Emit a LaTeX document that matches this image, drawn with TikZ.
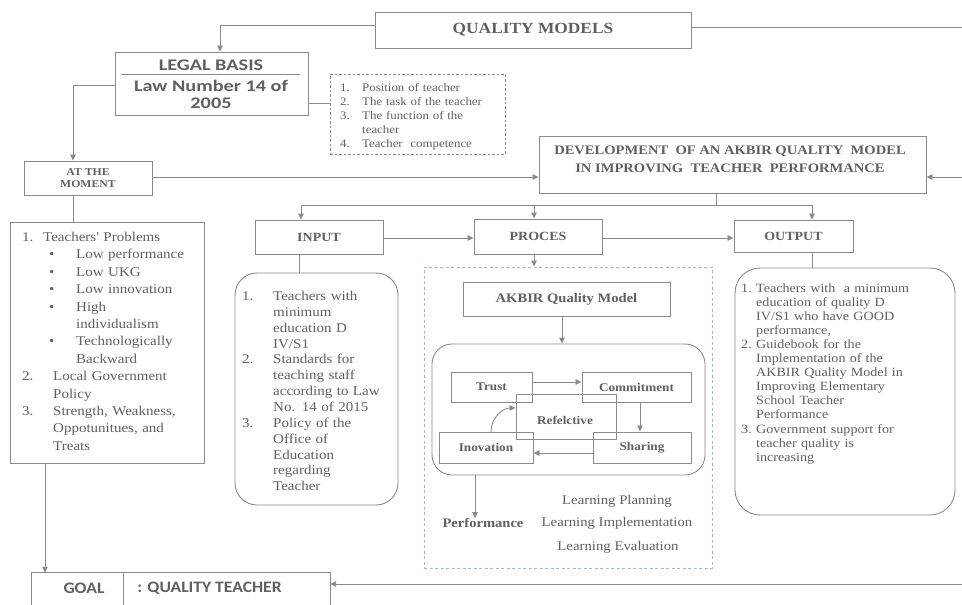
\documentclass[tikz,border=0pt]{standalone}
\usepackage{fontspec}
\usetikzlibrary{arrows.meta}
\newfontfamily\sr{Liberation Serif}[FakeStretch=1.12]
\newfontfamily\sn{Carlito}[FakeStretch=1.1]
\newfontfamily\snw{Carlito}[FakeStretch=1.25]
\definecolor{lc}{HTML}{8A8A8A}
\definecolor{tc}{HTML}{606060}
\definecolor{bc}{HTML}{9DB8DA}
\newcommand\mybox[6]{\node[#1,minimum width={(#4)-(#2)},minimum height={(#5)-(#3)}] (#6) at ({((#2)+(#4))/2},{((#3)+(#5))/2})}
\begin{document}
\begin{tikzpicture}[x=1pt,y=-1pt,
  box/.style={draw=lc, line width=0.9pt, inner sep=0pt, text=tc},
  rbox/.style={box, rounded corners=#1},
  dbox/.style={box, dash pattern=on 2.5pt off 2pt},
  bluebox/.style={draw=bc, line width=0.9pt, inner sep=0pt, dash pattern=on 3pt off 2.5pt},
  conn/.style={draw=lc, line width=0.9pt},
  arr/.style={conn, -{Triangle[length=6pt,width=5.5pt]}},
  txt/.style={text=tc, inner sep=0pt},
  lst/.style={txt, anchor=base west, align=left, text width=#1},
  bs/.style={font=\sr\bfseries\fontsize{#1}{#1}\selectfont},
  rs/.style={font=\sr\fontsize{#1}{#1}\selectfont},
  cb/.style={font=\sn\bfseries\fontsize{#1}{#1}\selectfont},
  cw/.style={font=\snw\bfseries\fontsize{#1}{#1}\selectfont},
]
\useasboundingbox (0,0) rectangle (962,605);
\fill[white] (0,0) rectangle (962,605);

% ---- top
\mybox{box,bs=15.5}{375}{12}{691}{48}{qm} {QUALITY MODELS};
\mybox{box}{115}{52}{308}{115}{legal} {};
\node[txt,cw=16.2] (lg1) at (211,65) {LEGAL BASIS};
\node[txt,cw=16.2] (lg2) at (211,86) {Law Number 14 of};
\node[txt,cw=16.2] (lg3) at (211,103) {2005};
\draw[conn] (121,74) -- (300,74);
\mybox{dbox}{330}{74}{505}{154}{duties} {};
\node[lst=170pt, font=\sr\fontsize{11.5}{14.2}\selectfont] (dlist) at (340,91)
 {\makebox[22pt][l]{1.}Position of teacher\\
  \makebox[22pt][l]{2.}The task of the teacher\\
  \makebox[22pt][l]{3.}The function of the\\
  \hspace*{22pt}teacher\\
  \makebox[22pt][l]{4.}Teacher\ \ competence};

\mybox{box,align=center,font=\sr\bfseries\fontsize{10.5}{12}\selectfont}{24}{161}{152}{195}{now} {AT THE\\MOMENT};
\mybox{box}{539}{136}{926}{193}{dev} {};
\node[txt,align=center,font=\sr\bfseries\fontsize{13}{18}\selectfont] (devt) at (730,159)
 {DEVELOPMENT\ \ OF AN AKBIR QUALITY\ \ MODEL\\IN IMPROVING\ \ TEACHER\ \ PERFORMANCE};

\coordinate (qmR) at (962,27);
\coordinate (devR) at (962,177);
\coordinate (goalR) at (962,584);

\draw[arr] (qm.west |- 0,25) -| (legal.north -| 220,0);
\draw[conn] (qm.east |- 0,27) -- (qmR);
\draw[arr] (legal.west |- 0,85) -| (now.north -| 73,0);
\draw[conn] (legal.east |- 0,103) -- (duties.west |- 0,103);
\draw[arr] (now.east |- 0,177) -- (dev.west |- 0,177);
\draw[arr] (devR) -- (dev.east |- 0,177);

% ---- problems
\mybox{box}{10}{222}{204}{463}{prob} {};
\draw[conn] (now.south -| 73,0) -- (prob.north -| 73,0);
\node[lst=190pt, font=\sr\fontsize{13.4}{17.4}\selectfont] (plist) at (22,241.5)
 {\makebox[21pt][l]{1.}Teachers' Problems\\
  \hspace*{27pt}\makebox[27pt][l]{\textbullet}Low performance\\
  \hspace*{27pt}\makebox[27pt][l]{\textbullet}Low UKG\\
  \hspace*{27pt}\makebox[27pt][l]{\textbullet}Low innovation\\
  \hspace*{27pt}\makebox[27pt][l]{\textbullet}High\\
  \hspace*{54pt}individualism\\
  \hspace*{27pt}\makebox[27pt][l]{\textbullet}Technologically\\
  \hspace*{54pt}Backward\\
  \makebox[31pt][l]{2.}Local Government\\
  \hspace*{31pt}Policy\\
  \makebox[31pt][l]{3.}Strength, Weakness,\\
  \hspace*{31pt}Oppotunitues, and\\
  \hspace*{31pt}Treats};

% ---- input / proces / output
\mybox{box,bs=12.5}{255}{220}{383}{254}{inp} {INPUT};
\mybox{box,bs=12.5}{474}{219}{602}{254}{proc} {PROCES};
\mybox{box,bs=12.5}{734}{220}{853}{252}{outp} {OUTPUT};
\coordinate (split) at (716,205);
\draw[conn] (dev.south -| split) -- (split);
\draw[conn] (301,205) -- (812,205);
\draw[arr] (301,205) -- (inp.north -| 301,0);
\draw[arr] (534,205) -- (proc.north -| 534,0);
\draw[arr] (812,205) -- (outp.north -| 812,0);
\draw[arr] (inp.east |- 0,238) -- (proc.west |- 0,238);
\draw[arr] (proc.east |- 0,238) -- (outp.west |- 0,238);

\mybox{rbox=22pt}{235}{273}{398}{505}{inlist} {};
\draw[conn] (inp.south -| 299,0) -- (inlist.north -| 299,0);
\node[lst=160pt, font=\sr\fontsize{13.4}{15.85}\selectfont] (ilist) at (242,300.5)
 {\makebox[31pt][l]{1.}Teachers with\\
  \hspace*{31pt}minimum\\
  \hspace*{31pt}education D\\
  \hspace*{31pt}IV/S1\\
  \makebox[31pt][l]{2.}Standards for\\
  \hspace*{31pt}teaching staff\\
  \hspace*{31pt}according to Law\\
  \hspace*{31pt}No. 14 of 2015\\
  \makebox[31pt][l]{3.}Policy of the\\
  \hspace*{31pt}Office of\\
  \hspace*{31pt}Education\\
  \hspace*{31pt}regarding\\
  \hspace*{31pt}Teacher};

\mybox{rbox=25pt}{735}{268}{955}{515}{outlist} {};
\draw[conn] (outp.south -| 812,0) -- (outlist.north -| 812,0);
\node[lst=215pt, font=\sr\fontsize{12.6}{14.1}\selectfont] (olist) at (741,292)
 {\makebox[15pt][l]{1.}Teachers with\ \ a minimum\\
  \hspace*{15pt}education of quality D\\
  \hspace*{15pt}IV/S1 who have GOOD\\
  \hspace*{15pt}performance,\\
  \makebox[15pt][l]{2.}Guidebook for the\\
  \hspace*{15pt}Implementation of the\\
  \hspace*{15pt}AKBIR Quality Model in\\
  \hspace*{15pt}Improving Elementary\\
  \hspace*{15pt}School Teacher\\
  \hspace*{15pt}Performance\\
  \makebox[15pt][l]{3.}Government support for\\
  \hspace*{15pt}teacher quality is\\
  \hspace*{15pt}increasing};

% ---- process model
\mybox{bluebox}{424}{267}{712}{568}{procarea} {};
\draw[arr] (proc.south -| 534,0) -- (procarea.north -| 534,0);
\mybox{box,bs=13}{463}{282}{670}{316}{akbir} {AKBIR Quality Model};
\mybox{rbox=20pt}{432}{344}{705}{475}{cycle} {};
\draw[arr] (akbir.south -| 562,0) -- (cycle.north -| 562,0);
\mybox{box,bs=11.8}{451}{372}{532}{402}{trust} {Trust};
\mybox{box,bs=11.8}{582}{372}{691}{402}{commit} {Commitment};
\mybox{box}{516}{394}{616}{439}{refl} {};
\node[txt,bs=11.8] (reflt) at (565,420) {Refelctive};
\mybox{box,bs=11.8}{593}{432}{691}{463}{share} {Sharing};
\mybox{box,bs=11.8}{439}{432}{533}{463}{inov} {Inovation};
\draw[arr] (trust.east |- 0,382) -- (commit.west |- 0,382);
\draw[arr] (commit.south -| 640,0) -- (share.north -| 640,0);
\draw[arr] (share.west |- 0,453) -- (inov.east |- 0,453);
\draw[arr] (inov.north -| 491,0) to[out=90,in=180] (refl.west |- 0,408);

\node[txt,bs=13] (perf) at (483,523) {Performance};
\draw[arr] (cycle.south -| 475,0) -- (perf.north -| 475,0);
\node[txt,rs=13.2] (lp) at (617,501) {Learning Planning};
\node[txt,rs=13.2] (li) at (617,523) {Learning Implementation};
\node[txt,rs=13.2] (le) at (618,547) {Learning Evaluation};

% ---- goal
\node[draw=none, inner sep=0pt, minimum width=298pt, minimum height=32pt] (goal) at (181,589) {};
\draw[conn] (goal.south west) |- (goal.north east) -- (goal.south east);
\draw[conn] (123,573) -- (123,605);
\node[txt,cb=16] (goal1) at (84,588) {GOAL};
\node[txt,cb=16] (goal2) at (209.5,588) {: QUALITY TEACHER};
\draw[arr] (prob.south -| 45,0) -- (goal.north -| 45,0);
\draw[arr] (goalR) -- (goal.east |- goalR);
\end{tikzpicture}
\end{document}
